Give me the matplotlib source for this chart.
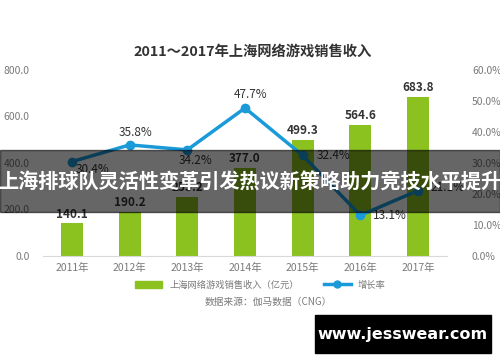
import numpy as np
import matplotlib.pyplot as plt
from matplotlib.patches import Rectangle
from matplotlib.lines import Line2D
from matplotlib.patches import Patch

plt.rcParams['font.family'] = ['Noto Sans CJK SC', 'DejaVu Sans']

years = ['2011年', '2012年', '2013年', '2014年', '2015年', '2016年', '2017年']
revenue = [140.1, 190.2, 255.2, 377.0, 499.3, 564.6, 683.8]
growth = [30.4, 35.8, 34.2, 47.7, 32.4, 13.1, 21.1]
left_ticks = [0, 200, 400, 600, 800]
right_ticks = [0, 10, 20, 30, 40, 50, 60]

green = '#8cc220'
blue = '#1a9ad8'
gray = '#7a7a7a'
dark = '#333333'

fig = plt.figure(figsize=(5, 3.62), dpi=100)
ax = fig.add_axes([0.086, 0.293, 0.808, 0.514])
ax2 = ax.twinx()

x = np.arange(len(years))
ax.bar(x, revenue, width=0.38, color=green, zorder=2)
for xi, v in zip(x, revenue):
    ax.text(xi, v + 12, f'{v:.1f}', ha='center', va='bottom',
            fontsize=8.5, color=dark, fontweight='bold')

ax.set_xlim(-0.5, 6.5)
ax.set_ylim(0, 800)
ax.set_yticks(left_ticks)
ax.set_yticklabels([f'{t:.1f}' for t in left_ticks])
ax.set_xticks(x)
ax.set_xticklabels(years)
ax.tick_params(axis='both', length=0, labelsize=7.5, colors=gray)
ax.tick_params(axis='x', pad=5)
ax.tick_params(axis='y', pad=9.5)
for s in ['top', 'right', 'left']:
    ax.spines[s].set_visible(False)
ax.spines['bottom'].set_color('#d9d9d9')

ax2.plot(x, growth, color=blue, lw=2.5, marker='o', markersize=6, zorder=3)
ax2.set_ylim(0, 60)
ax2.set_yticks(right_ticks)
ax2.set_yticklabels([f'{t:.1f}%' for t in right_ticks])
ax2.tick_params(axis='y', length=0, labelsize=7.5, colors=gray, pad=18)
for s in ax2.spines.values():
    s.set_visible(False)

# label offsets in points (dx, dy) for each growth value
offsets = [(15, -6), (4, 9), (6, -8), (4, 10), (22, 0), (21, 0), (21, 2)]
for xi, g, (dx, dy) in zip(x, growth, offsets):
    ax2.annotate(f'{g:.1f}%', (xi, g), xytext=(dx, dy), textcoords='offset points',
                 ha='center', va='center', fontsize=8.5, color=dark)

fig.text(0.505, 0.857, '2011～2017年上海网络游戏销售收入', ha='center', va='center',
         fontsize=10.3, fontweight='bold', color=dark)

handles = [Patch(color=green),
           Line2D([0], [0], color=blue, lw=2.5, marker='o', markersize=5)]
fig.legend(handles, ['上海网络游戏销售收入（亿元）', '增长率'], loc='center',
           bbox_to_anchor=(0.521, 0.213), ncol=2, frameon=False, fontsize=6.7,
           labelcolor=gray, columnspacing=2.7, handlelength=2.9,
           handletextpad=0.75, handleheight=0.7)

fig.text(0.536, 0.166, '数据来源：伽马数据（CNG）', ha='center', va='center',
         fontsize=7, color=gray)

# dark overlay banner
fig.patches.append(Rectangle((0, 1 - 212 / 362), 1, 62 / 362, transform=fig.transFigure,
                             color='black', alpha=0.6, zorder=10))
fig.text(0.5, 1 - 182 / 362, '上海排球队灵活性变革引发热议新策略助力竞技水平提升',
         ha='center', va='center', fontsize=14.5, fontweight='bold',
         color='white', zorder=11)

fig.patches.append(Rectangle((315 / 500, 1 - 353 / 362), 176 / 500, 38 / 362,
                             transform=fig.transFigure, color='black', zorder=10))
fig.text(403 / 500, 1 - 334 / 362, 'www.jesswear.com', ha='center', va='center',
         fontsize=11.5, fontweight='bold', color='white', zorder=11,
         family=['DejaVu Sans'])

fig.savefig('out.png', dpi=100)
